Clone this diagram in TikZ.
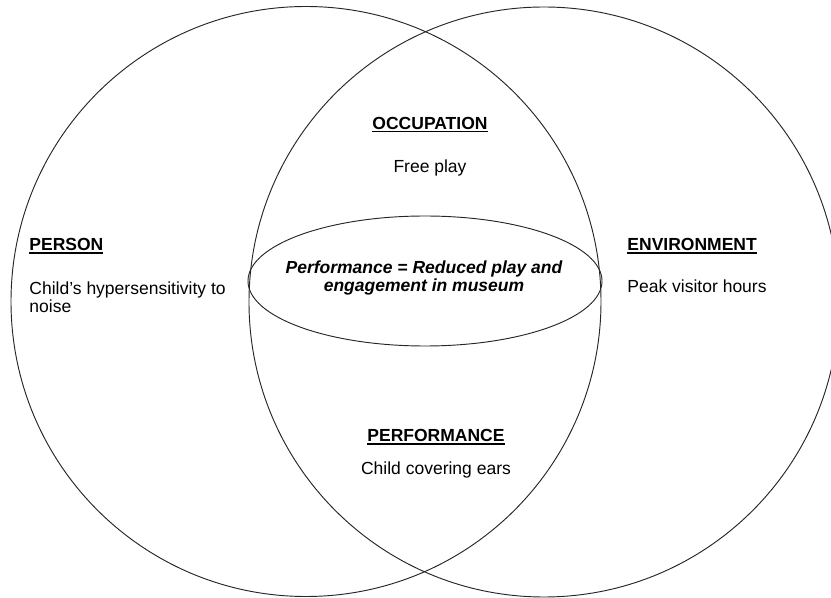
\documentclass[tikz,border=0pt]{standalone}
\usepackage{fontspec}
\setmainfont{Liberation Sans}
\newcommand\hdline[1]{\sbox0{\bfseries #1}\rlap{\bfseries #1}\rule[-0.15em]{\wd0}{0.08em}}
\begin{document}
\begin{tikzpicture}[x=0.03cm, y=-0.03cm, line width=0.8pt, font=\fontsize{14.94}{16.2}\selectfont,
	ring/.style={draw=black!85},
	hd/.style={inner sep=0pt, anchor=base},
	txt/.style={inner sep=0pt, align=left, anchor=base west}]
	\useasboundingbox (0,0) rectangle (831,598);
	\begin{scope}
	\clip (0,0) rectangle (831,598);
	\draw[ring] (306,301.5) circle (295);
	\draw[ring] (544,302) circle (295);
	\end{scope}
	\draw[ring] (425,281) ellipse (177 and 65);
	% top, left, right, bottom labels
	\node[hd] (occ) at (430,129.3) {\hdline{OCCUPATION}};
	\node[hd] (occtxt) at (430,173) {Free play};
	\node[txt] (person) at (29,251) {\hdline{PERSON}};
	\node[txt] (persontxt) at (29,313) {Child’s hypersensitivity to\\noise};
	\node[txt] (env) at (627,251) {\hdline{ENVIRONMENT}};
	\node[txt] (envtxt) at (627,293) {Peak visitor hours};
	\node[hd] (perf) at (436,442) {\hdline{PERFORMANCE}};
	\node[hd] (perftxt) at (436,475) {Child covering ears};
	% centre of the ellipse
	\node[hd, align=center, font=\fontsize{14.94}{16.2}\selectfont\bfseries\itshape] (result) at (424,292)
		{Performance = Reduced play and\\engagement in museum};
\end{tikzpicture}
\end{document}
